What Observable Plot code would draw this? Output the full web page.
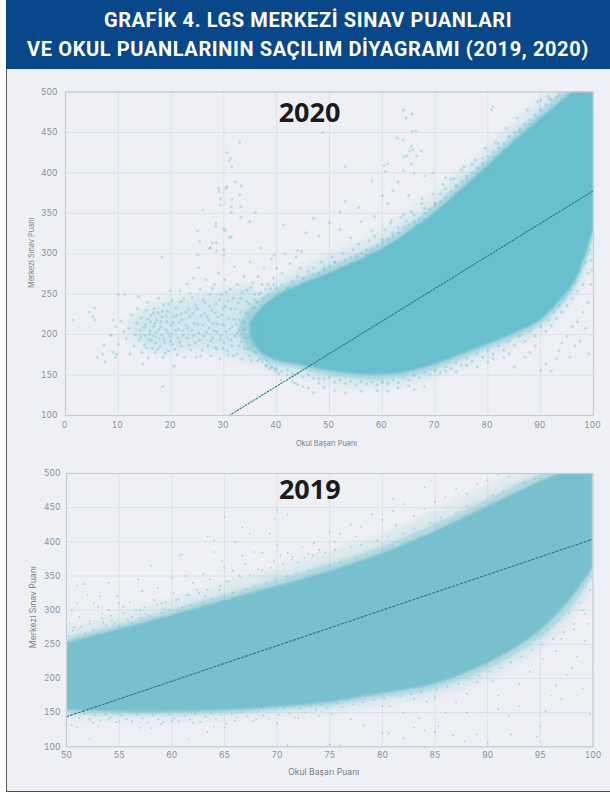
<!DOCTYPE html>
<html lang="tr">
<head>
<meta charset="utf-8">
<script src="https://cdn.jsdelivr.net/npm/d3@7"></script>
<script src="https://cdn.jsdelivr.net/npm/@observablehq/plot@0.6"></script>
<style>
html,body{margin:0;padding:0;background:#fff}
#page{position:relative;width:610px;height:794px;overflow:hidden;background:#fff}
#panel{position:absolute;left:6px;top:0;width:604px;height:792px;box-sizing:border-box;background:#eef0f5;border-left:1.5px solid #5a5c60;border-bottom:1.5px solid #4a4c50}
#head{position:absolute;left:6px;top:0;width:604px;height:69px;background:#08488a;color:#fff;font:700 20px/29px Roboto,sans-serif;letter-spacing:.62px;text-align:center;padding-top:6px;box-sizing:border-box}
.p{position:absolute;left:0}
.p svg{display:block}
</style>
</head>
<body>
<div id="page">
<div id="panel"></div>
<div id="head">GRAFİK 4. LGS MERKEZİ SINAV PUANLARI<br>VE OKUL PUANLARININ SAÇILIM DİYAGRAMI (2019, 2020)</div>
<div id="p2020" class="p" style="top:70px"></div>
<div id="p2019" class="p" style="top:450px"></div>
</div>
<script>
const xLabel = "Okul Başarı Puanı";
const yLabel = "Merkezi Sınav Puanı";
const yTicks = [100,150,200,250,300,350,400,450,500];
const xTicks2020 = [0,10,20,30,40,50,60,70,80,90,100];
const xTicks2019 = [50,55,60,65,70,75,80,85,90,95,100];

// 2020: dense cloud, read as a band
const bandX2020 = [35,37,40,44.5,50,55,60,65,70,75,80,85,90,95,97,100];
const bandHi2020 = [214,232,248,262,276,290,306,327,351,379,409,439,467,494,505,505];
const bandLo2020 = [196,178,168,162,155,151,150,154,163,175,188,201,218,252,272,329];
const fuzzX2020 = [33,35,37,40,45,50,55,60,65,70,75,80,85,90,95,98,100];
const fuzzHi2020 = [212,232,244,256,270,284,298,314,335,360,388,417,447,475,503,510,510];
const fuzzLo2020 = [200,180,170,162,156,149,145,144,148,157,169,182,195,212,244,278,318];
const outerHi2020 = [216,240,254,266,284,298,312,328,350,374,402,432,462,490,512,515,515];
const outerLo2020 = [198,172,162,152,146,139,135,134,138,147,159,172,185,202,232,262,300];
const hazeX2020 = [12,15,18,22,26,30,33,36];
const hazeHi2020 = [215,230,238,244,248,254,258,262];
const hazeLo2020 = [200,184,178,180,180,176,170,165];
// 2020: sparse points [x, y]
const sparse2020 = [
[1.5,218],[4.5,228],[5.2,222],[5.5,218],[5.5,233],[6,172],[7,176],[7.3,187],[7.5,166],[9,178],[9.5,172],[9.7,176],[8.7,199],[8.5,200],[10,188],[10,250],[10.5,217],[9,218],[9.5,210],[11.3,250],[11,204],[11.5,195],[12,208],[12.5,225],[12.2,176],[13,186],[13.2,200],[13.5,214],[13.6,232],[13.8,247],[14,193],[14.2,205],[14.4,221],[14.5,178],[14.7,164],[15,187],[15,199],[15.2,212],[15.3,230],[15.5,240],[15.7,171],[15.8,194],[16,205],[16.1,216],[16.2,224],[16.4,183],[16.5,199],[16.7,210],[16.8,232],[17,178],[17,190],[17.2,203],[17.3,218],[17.5,227],[17.6,245],[17.8,195],[17.9,185],[18,210],[18.2,200],[18.3,222],[18.4,136],[18.5,172],[18.6,237],[18.8,190],[19,206],[19.2,216],[19.3,229],[19.5,180],[19.7,198],[19.8,254],[20,212],[20.1,242],[20.3,188],[20.5,222],[20.6,161],[20.8,205],[21,233],[21.2,175],[21.3,196],[21.5,215],[21.7,254],[21.9,226],[22,186],[22.2,205],[22.4,244],[22.6,172],[22.8,212],[23,263],[23.1,196],[23.3,232],[23.5,222],[23.7,181],[23.9,205],[24,246],[24.2,270],[24.4,214],[24.6,190],[24.8,172],[25,232],[25.2,283],[25.3,202],[25.5,256],[25.7,224],[25.9,181],[26,212],[26.2,198],[26.4,240],[26.6,268],[26.8,222],[27,186],[27.2,208],[27.4,250],[27.5,174],[27.7,230],[27.9,196],[28,214],[28.2,262],[28.4,184],[28.5,238],[28.7,204],[28.9,222],[29,276],[29.2,170],[29.3,194],[29.5,250],[29.7,212],[29.9,232],[30,190],[30.2,268],[30.4,204],[30.6,180],[30.8,242],[31,220],[31.2,256],[31.4,194],[31.6,210],[31.8,174],[32,284],[32.2,232],[32.4,202],[32.6,262],[32.8,186],[33,218],[33.2,245],[33.4,170],[33.6,206],[33.8,272],[34,196],[34.2,226],[34.4,255],[34.6,182],[34.8,238],[35,290],[35.2,168],[35.5,264],[35.8,250],[36,178],[36.3,240],[36.5,272],[36.8,170],[37,252],[37.3,166],[37.6,283],[38,162],[38.3,262],[38.7,158],[39,294],[39.3,270],[39.7,155],[40,282],[40.4,152],[40.8,144],[41,276],[41.5,300],[42,150],[42.5,288],[43,148],[43.5,140],[44,304],[44.5,282],[45,136],
[14.3,197],[14.9,209],[15.4,183],[15.6,219],[15.9,201],[16.3,193],[16.6,227],[16.9,214],[17.1,197],[17.4,182],[17.7,206],[18.1,216],[18.4,229],[18.7,194],[18.9,177],[19.1,223],[19.4,203],[19.6,238],[19.9,192],[20.2,201],[20.4,215],[20.7,182],[21.1,224],[21.4,207],[21.6,191],[21.8,241],[22.1,218],[22.3,199],[22.7,228],[23.2,208],[23.4,187],[23.6,251],[24.1,226],[24.3,199],[24.7,236],[25.1,213],[25.4,193],[25.6,174],[26.1,243],[26.3,226],[26.7,203],[27.1,218],[27.3,235],[27.6,192],[27.8,257],[28.1,205],[28.3,227],[28.6,182],[28.8,213],[29.1,243],[29.4,199],[29.6,225],[29.8,183],[30.1,212],[30.3,235],[30.5,252],[30.7,196],[30.9,175],[31.1,207],[31.3,232],[31.5,186],[31.7,245],[31.9,219],[32.1,198],[32.3,213],[32.5,176],[32.7,239],[32.9,205],[33.1,228],[33.3,191],[33.5,253],[33.7,216],[33.9,183],[34.1,208],[34.3,241],[34.5,197],[34.7,222],[34.9,174],[35.1,258],[35.3,212],[35.4,186],[35.6,233],[35.7,202],[35.9,243],[36.1,191],[36.2,222],[36.4,168],[36.6,250],[36.7,207],[36.9,183],[37.1,236],[37.2,262],[37.4,176],[37.5,245],[37.7,171],[37.9,256],[38.1,168],[38.4,249],[38.5,164],[38.8,257],[39.1,160],[39.4,262],[39.6,158],[39.9,258],

[33,438],[30.6,425],[31.3,418],[31,415],[31.5,408],[32.1,389],[33.3,384],[29,381],[29,377],[30.6,383],[30.4,381],[33,373],[29.4,368],[31.5,367],[29.4,360],[31.4,358],[33.2,358],[26,354],[31.4,351],[36,351],[33.2,345],[34.9,340],[41.3,336],[28.5,338],[28.4,334],[25,328],[30,331],[30.2,329],[31.4,321],[31,320],[25.4,315],[27.8,313],[28.6,314],[27.3,307],[27.5,307],[28.6,304],[30,305],[25,299],[30,298],[37,307],[39.5,298],[44.7,303],[43.7,296],[18.3,296],

[81,482],[80.7,478],[64,478],[65.6,473],[64.5,468],[48.7,450],[65.6,451],[66.3,452],[62.9,443],[63.9,441],[65.5,433],[65.8,429],[65.2,427],[67.4,427],[64,420],[64.6,421],[66.5,421],[61,411],[60.4,409],[53,408],[65.5,411],[64,403],[60.6,402],[66,400],[68,396],[69.6,400],[58,390],[63,389],[62,378],[60,372],[65,372],[61,362],[67.5,368],[53,365],[55.5,357],[52,352],[58.5,346],[64,348],[47,344],[50,338],[56,340],[61.5,338],[66.5,335],[45.5,326],[48,322],[52,330],[54,320],[58,328],[62,326],[64.5,340],[68,342],[70,362],[72,380],[72,394],[75,404],[77,410],[79,418],[81,420],[83,428],[84,446],[86,452],[87,444],[88,460],[89.5,468],[90,478],[91,470],[92,484],[93,478],[94,492],[95,497],[93.5,497],[91.7,492],[90,490],[82,436],[78,398],[74,384],[71,374],[68,356],[66,348],[63,332],[60,318],[57,305],[54,296],[51,290],[49,280],[47,274],[73,392],[76,396],[80,406],[85,442],
[41,262],[42,258],[43,266],[44,272],[45,270],[46,278],[46.6,268],[47,283],[48,276],[48.5,290],[49,282],[50,285],[50.5,296],[51,289],[52,284],[52.5,300],[53,292],[54,288],[54.5,305],[55,297],[55.5,312],[56,301],[57,298],[57.5,316],[58,305],[58.5,322],[59,310],[60,315],[60.5,330],[61,318],[61.7,341],[62,322],[63,326],[63.5,345],[64,333],[65,336],[65.5,352],[66,340],[67,343],[67.5,362],[68,350],[69,355],[69.6,374],[70,361],[71,364],[71.5,386],[72,370],[73,377],[73.6,393],[74,384],[75,390],[75.5,408],[76,394],[77,400],[77.6,416],[78,406],[79,412],[79.5,430],[80,420],[81,426],[81.5,438],[82,431],[83,436],[83.5,455],[84,444],[85,450],[85.6,468],[86,455],[87,460],[87.5,478],[88,466],[89,472],[89.4,488],[90,478],[91,484],[91.4,495],[92,490],[93,494],

[38,161],[39,160],[40,158],[41,155],[42,156],[43,152],[44,152],[45,148],[46,150],[47,146],[48,146],[49,145],[50,147],[51,141],[52,144],[53,140],[54,142],[55,138],[56,142],[57,139],[58,141],[59,138],[60,141],[61,140],[62,144],[63,141],[64,147],[65,144],[66,150],[67,147],[68,153],[69,151],[70,156],[71,153],[72,160],[73,158],[74,165],[75,162],[76,171],[77,167],[78,176],[79,172],[80,180],[81,176],[82,186],[83,181],[84,192],[85,187],[86,198],[87,192],[88,204],[89,198],[90,210],[91,204],[91.5,218],[92,211],[92.5,228],[93,220],[93.5,236],[94,228],[94.5,245],[95,236],[95.5,256],[96,244],[96.5,265],[97,254],[97.5,278],[98,262],[98.5,290],[99,276],[99.3,305],[99.6,292],
[43,142],[44,138],[46,134],[47,128],[48,140],[49,135],[51,131],[53,128],[56,130],[59,131],[61,130],[63,134],[65,137],[66,132],[68,136],[72,155],[74,154],[76,162],[78,160],[80,166],[81,170],[83,172],[84,176],[85,160],[87,172],[88,178],[89,186],[90,156],[91,164],[92,155],[93,170],[93.5,180],[94,190],[95,198],[95.5,172],[96,210],[96.5,186],[97,216],[97.5,192],[98,228],[98.5,208],[99,240],[99.5,262],[99.7,280],[99.2,176]
];
const line2020X = [31,100];
const line2020Y = [100,378];

// 2019
const bandX2019 = [50,55,60,65,70,75,80,85,90,95,98,100];
const bandHi2019 = [252,272,292,314,335,357,383,415,452,488,505,505];
const bandLo2019 = [153,151,151,153,158,165,178,192,222,270,318,362];
const fuzzHi2019 = [258,279,300,322,344,367,393,426,462,498,510,510];
const fuzzLo2019 = [148,146,146,148,153,159,171,184,212,258,304,350];
const outerHi2019 = [272,293,314,337,360,384,410,444,480,512,515,515];
const outerLo2019 = [141,139,139,141,145,150,161,172,198,242,286,330];
const sparse2019 = [
[50.3,280],[50.5,300],[50.7,275],[51,310],[51,336],[51.2,290],[51.7,338],[52,322],[52.2,280],[52.5,270],[52.6,310],[53,305],[53.2,320],[53.4,295],[53.5,282],[54,300],[54,340],[54.3,285],[54.8,320],[55,310],[55.4,305],[56,312],[56.2,290],[56.8,345],[57,300],[57.2,328],[57.5,295],[58,365],[58.3,315],[58.7,332],[59,310],[59.3,302],[60,347],[60.2,325],[60.4,315],[60.8,380],[61,382],[61.3,350],[61.6,322],[62,340],[62.4,330],[63,353],[63.2,320],[63.4,408],[63.6,345],[64,402],[64,385],[64.5,330],[64.8,372],[65,362],[65.2,342],[65.8,358],[66,400],[66.4,350],[66.7,380],[67,368],[67.4,412],[67.8,385],[68.2,360],[68.6,384],[69.3,412],[69.7,372],[70,395],[70.3,380],[71,384],[71.5,378],[72,370],[72.4,392],[73,382],[73.5,398],[74,388],[75,415],[75.5,400],[76,412],[77,425],[77.5,408],[78,422],[79,440],[80,432],[81,445],[81.3,425],[82,455],[83,438],[84,448],[85,458],[86,465],[87,478],[88,470],[89,484],[90,490],[91,498],[92,495],[65,437],[66.7,421],[70,446],[69.8,434],[71,440],[81,463],[84,480],
[50.2,262],[50.6,270],[51,258],[51.4,276],[51.8,266],[52.2,284],[52.6,272],[53,264],[53.4,288],[53.8,278],[54.2,292],[54.6,281],[55,275],[55.4,296],[55.8,286],[56.2,280],[56.6,300],[57,289],[57.4,304],[57.8,292],[58.2,284],[58.6,308],[59,296],[59.4,312],[59.8,300],[60.2,293],[60.6,316],[61,304],[61.4,322],[61.8,308],[62.2,299],[62.6,325],[63,312],[63.4,330],[63.8,316],[64.2,306],[64.6,336],[65,320],[65.4,342],[65.8,326],[66.2,316],[66.6,348],[67,330],[67.4,352],[67.8,336],[68.2,324],[68.6,358],[69,340],[69.4,362],[69.8,346],[70.2,336],[70.6,368],[71,350],[71.4,374],[71.8,354],[72.2,343],[72.6,377],[73,358],[73.4,380],[73.8,362],[74.2,350],[74.6,384],[75,366],[75.5,388],[76,370],[76.5,358],[77,392],[77.5,376],[78,396],[78.5,382],[79,372],[79.5,402],[80,388],[80.5,408],[81,394],[81.5,384],[82,412],[82.5,400],[83,420],[83.5,406],[84,396],[84.5,428],[85,416],[85.5,436],[86,420],[86.5,410],[87,442],[87.5,428],[88,452],[88.5,436],[89,424],[89.5,458],[90,444],[90.5,468],[91,452],[91.5,474],[92,460],[92.5,482],[93,468],[93.5,486],[94,474],[94.5,492],[95,484],[96,494],[97,498],

[50.5,132],[51,129],[52.2,112],[52.5,135],[53,130],[54,140],[55,138],[57,128],[58,127],[59,133],[60,138],[61.6,111],[62,135],[63.4,122],[64,130],[65,128],[66,138],[68,140],[70,135],[71,102],[72,142],[74,145],[75,103],[76,102],[77,140],[78.2,132],[80,120],[80.6,120],[82,113],[82,150],[83,128],[83.5,142],[84,124],[85,122],[85.3,130],[86,150],[86.7,117],[87.8,108],[88,150],[89,118],[90,106],[91,155],[92.2,118],[92,145],[93,160],[94.7,115],[95,130],[95.5,152],[96,175],[96.5,190],[97,170],[97.5,205],[98,215],[98.5,232],[99,185],[99.2,255],[99.5,280],[99.7,148],[100,220],[91,175],[93,192],[94,210],[95.3,228],[96.5,240],[97,258],[98.2,272],[99,300],[88,178],[89,195],[90.5,196],[87,165],[85,172],[83,170],[80,160],
[50.2,146],[50.7,150],[51.2,142],[51.7,148],[52.2,140],[52.7,146],[53.2,138],[53.7,147],[54.2,143],[54.7,136],[55.2,146],[55.7,141],[56.2,137],[56.7,147],[57.2,142],[57.7,135],[58.2,146],[58.7,140],[59.2,136],[59.7,147],[60.2,142],[60.7,137],[61.2,146],[61.7,140],[62.2,148],[62.7,136],[63.2,144],[63.7,150],[64.2,141],[64.7,146],[65.2,134],[65.7,148],[66.2,143],[66.7,151],[67.2,145],[67.7,138],[68.2,152],[68.7,146],[69.2,140],[69.7,154],[70.2,147],[70.7,156],[71.2,149],[71.7,143],[72.2,156],[72.7,150],[73.2,160],[73.7,154],[74.2,162],[74.7,156],[75.2,148],[75.7,164],[76.2,158],[76.7,170],[77.2,162],[77.7,174],[78.2,165],[78.7,176],[79.2,168],[79.7,178],[80.2,171],[80.7,160],[81.2,182],[81.7,174],[82.2,186],[82.7,177],[83.2,190],[83.7,180],[84.2,166],[84.7,194],[85.2,184],[85.7,198],[86.2,188],[86.7,205],[87.2,192],[87.7,212],[88.2,198],[88.7,218],[89.2,204],[89.7,224],[90.2,210],[90.7,232],[91.2,216],[91.7,240],[92.2,224],[92.7,248],[93.2,232],[93.7,256],[94.2,242],[94.7,264],[95.2,250],[95.7,272],[96.2,258],[96.7,284],[97.2,268],[97.7,296],[98.2,280],[98.7,310],[99.2,295],[99.7,330],[99.9,348]
];
const line2019X = [50,100];
const line2019Y = [144,404];

const zip = (...a) => a[0].map((_, i) => a.map(c => c[i]));
const tickColor = "#8d929b";
const gridColor = "#dde1e9";

function chart({height, marginLeft, marginRight, marginTop, marginBottom, xDomain, xTicks, bands, sparse, r, dotOpacity, color, lineX, lineY, dash, labelSize, xdy, ydx, ydy, xTickDx, yTickPad, tickPadX, year, yearDx, yearDy}) {
  const bandMarks = bands.map(([bx, hi, lo, opts]) =>
    Plot.areaY(zip(bx, hi, lo), {x: d => d[0], y1: d => d[2], y2: d => d[1], fill: color, curve: "catmull-rom", clip: true, ...opts}));
  return Plot.plot({
    width: 610, height, marginLeft, marginRight, marginTop, marginBottom,
    x: {domain: xDomain}, y: {domain: [100, 500]},
    style: {background: "transparent", fontFamily: "Inter, sans-serif"},
    marks: [
      Plot.gridX(xTicks, {stroke: gridColor, strokeOpacity: 1, strokeWidth: 1}),
      Plot.gridY(yTicks, {stroke: gridColor, strokeOpacity: 1, strokeWidth: 1}),
      ...bandMarks,
      Plot.dot(sparse, {x: d => d[0], y: d => d[1], r, fill: color, fillOpacity: dotOpacity, clip: true, imageFilter: "blur(.35px)"}),
      Plot.line(zip(lineX, lineY), {x: d => d[0], y: d => d[1], stroke: "#2a7488", strokeWidth: 1.1, strokeDasharray: dash, clip: true}),
      Plot.frame({stroke: "#c8ccd4", strokeWidth: 1.2}),
      Plot.axisX({ticks: xTicks, tickSize: 0, tickPadding: tickPadX, dx: xTickDx, label: null, fill: tickColor, fontSize: 8.5}),
      Plot.axisY({ticks: yTicks, tickSize: 0, tickPadding: yTickPad, label: null, fill: tickColor, fontSize: 8.5}),
      Plot.text([xLabel], {text: d => d, frameAnchor: "bottom", textAnchor: "middle", lineAnchor: "middle", dx: xdy[0], dy: xdy[1], fontSize: labelSize, fill: "#7b7f87"}),
      Plot.text([yLabel], {text: d => d, frameAnchor: "left", textAnchor: "middle", lineAnchor: "middle", rotate: -90, dx: ydx, dy: ydy, fontSize: labelSize, fill: "#7b7f87"}),
      Plot.text([year], {text: d => d, frameAnchor: "top", textAnchor: "middle", lineAnchor: "middle", dx: yearDx, dy: yearDy, fontSize: 27, fontWeight: 700, fontFamily: "'Open Sans', sans-serif", fill: "#1d1a1c"})
    ]
  });
}

document.getElementById("p2020").append(chart({
  height: 380, marginLeft: 65, marginRight: 17, marginTop: 21.5, marginBottom: 35,
  xDomain: [0, 100], xTicks: xTicks2020,
  bands: [
    [hazeX2020, hazeHi2020, hazeLo2020, {fillOpacity: .2, imageFilter: "blur(4px)"}],
    [fuzzX2020, outerHi2020, outerLo2020, {fillOpacity: .16, imageFilter: "blur(3px)"}],
    [fuzzX2020, fuzzHi2020, fuzzLo2020, {fillOpacity: .4, imageFilter: "blur(1.5px)"}],
    [bandX2020, bandHi2020, bandLo2020, {fillOpacity: 1, imageFilter: "blur(.8px)"}]
  ],
  sparse: sparse2020, r: 1.5, dotOpacity: .38, color: "#69bfcd",
  lineX: line2020X, lineY: line2020Y, dash: "1.4 1.8", labelSize: 7.4, xdy: [-3, 28], ydx: -34, ydy: -1, xTickDx: -1, yTickPad: 8, tickPadX: 6, year: "2020", yearDx: -20, yearDy: 21.5
}));
document.getElementById("p2019").append(chart({
  height: 340, marginLeft: 66, marginRight: 17.5, marginTop: 23, marginBottom: 43.7,
  xDomain: [50, 100], xTicks: xTicks2019,
  bands: [
    [bandX2019, outerHi2019, outerLo2019, {fillOpacity: .16, imageFilter: "blur(3px)"}],
    [bandX2019, fuzzHi2019, fuzzLo2019, {fillOpacity: .4, imageFilter: "blur(1.5px)"}],
    [bandX2019, bandHi2019, bandLo2019, {fillOpacity: 1, imageFilter: "blur(.8px)"}]
  ],
  sparse: sparse2019, r: .9, dotOpacity: .65, color: "#78c0cd",
  lineX: line2019X, lineY: line2019Y, dash: "2.2 2", labelSize: 8.6, xdy: [-6, 25], ydx: -33, ydy: -3, xTickDx: 0, yTickPad: 6, tickPadX: 5, year: "2019", yearDx: -20, yearDy: 17
}));
</script>
</body>
</html>
